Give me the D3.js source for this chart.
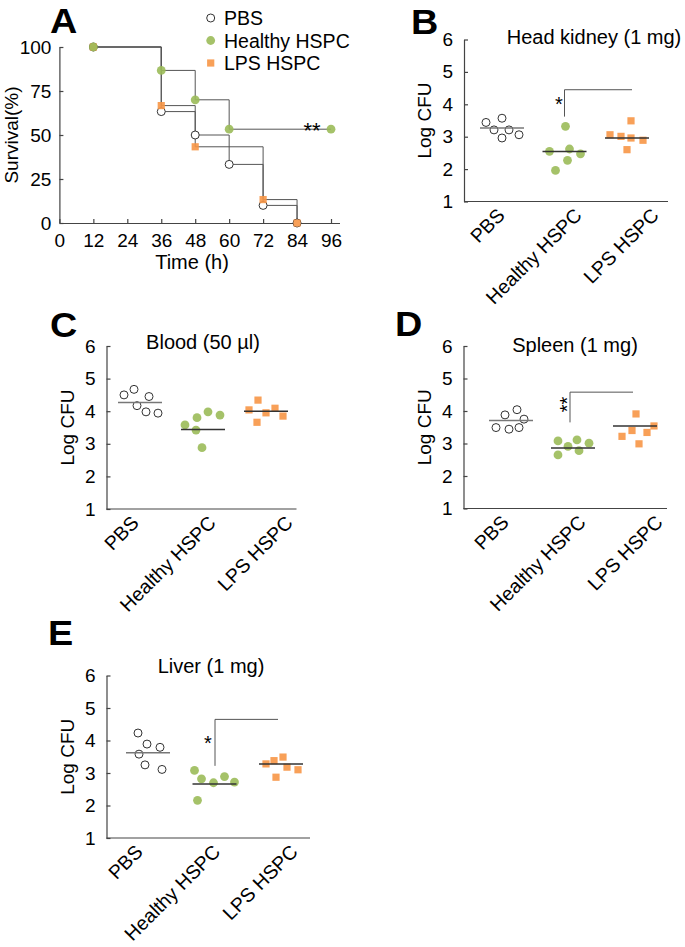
<!DOCTYPE html>
<html><head><meta charset="utf-8">
<script src="https://cdn.jsdelivr.net/npm/d3@7"></script>
<style>
body{margin:0;background:#fff}
svg{display:block}
text{font-family:"Liberation Sans",Arial,sans-serif;fill:#000;font-weight:normal}
</style>
</head><body>
<svg id="chart" width="685" height="947"></svg>
<script>
// ================= DATA =================
const groups = ["PBS", "Healthy HSPC", "LPS HSPC"];
const legendLabels = ["PBS", "Healthy HSPC", "LPS HSPC"];

// Panel A: survival
const survivalTicksX = [0, 12, 24, 36, 48, 60, 72, 84, 96];
const survivalTicksY = [0, 25, 50, 75, 100];
const pbsTime = [12, 36, 48, 60, 72, 84];
const pbsSurvival = [100, 63.3, 50, 33.3, 10, 0];
const healthyTime = [12, 36, 48, 60, 96];
const healthySurvival = [100, 86.7, 70, 53.3, 53.3];
const lpsTime = [12, 36, 48, 72, 84];
const lpsSurvival = [100, 66.7, 43.3, 13.3, 0];

// Panels B-E: Log CFU
const cfuTicks = [1, 2, 3, 4, 5, 6];

const headKidneyPBS = [3.44, 3.57, 3.21, 3.21, 2.96, 3.06];
const headKidneyHealthy = [3.32, 2.55, 2.62, 2.47, 2.27, 1.96];
const headKidneyLPS = [3.49, 3.06, 3.01, 2.96, 2.89, 2.60];
const headKidneyMeans = [3.27, 2.54, 2.96];

const bloodPBS = [4.50, 4.67, 4.45, 4.17, 3.98, 3.94];
const bloodHealthy = [3.58, 3.80, 3.98, 3.88, 3.42, 2.88];
const bloodLPS = [4.34, 4.04, 3.95, 4.09, 3.85, 3.66];
const bloodMeans = [4.27, 3.44, 4.00];

const spleenPBS = [3.49, 3.88, 3.44, 4.04, 3.75, 3.49];
const spleenHealthy = [3.08, 2.65, 2.91, 3.11, 2.78, 3.01];
const spleenLPS = [3.91, 3.40, 3.22, 3.34, 3.54, 2.99];
const spleenMeans = [3.71, 2.86, 3.54];

const liverPBS = [4.23, 3.89, 3.79, 3.58, 3.25, 3.11];
const liverHealthy = [3.08, 2.82, 2.70, 2.89, 2.72, 2.16];
const liverLPS = [3.28, 3.38, 3.49, 3.18, 3.10, 2.87];
const liverMeans = [3.62, 2.66, 3.28];

// significance brackets on Healthy HSPC: [bottom value, top value, star value]
const headKidneyBracket = [3.62, 4.45, 4.12];
const spleenBracket = [3.65, 4.58, 4.2];
const liverBracket = [3.22, 4.65, 4.06];

// ================= LAYOUT (jitter & geometry) =================
const jitterB = [[-16, 0, -8, 7, 0, 17], [1, -15, 5, 16, 3, -9], [4, -17, -6, 4, 16, 0]];
const jitterC = [[-16, -6, 9, -3, 6, 18], [-18, -6, 5, 17, -7, -1], [-8, -17, 0, 9, 17, -9]];
const jitterD = [[-15, -6, -2, 6, 13, 8], [-15, -15, -5, 4, 6, 16], [1, -3, -13, 12, 19, 4]];
const jitterE = [[-10, -1, 12, -9, -3, 14], [-20, -13, -1, 10, 20, -17], [-15, -7, 2, 6, 17, -5]];

const GREEN = "#9bbb59", ORANGE = "#f79646", LINE = "#555", AXIS = "#444";
const FONT = "'Liberation Sans',Arial,sans-serif";

const svg = d3.select("#chart");

function htext(g, x, y, s, o = {}) {
  const size = o.size || 20, sx = o.sx || 1;
  return g.append("text")
    .attr("transform", `translate(${x},${y}) scale(${sx},1)`)
    .attr("text-anchor", o.anchor || "middle")
    .style("font-size", size + "px")
    .style("font-weight", o.weight || "normal")
    .text(s);
}
function vtext(g, x, y, s, size) {
  return g.append("text")
    .attr("transform", `translate(${x},${y}) rotate(-90)`)
    .attr("text-anchor", "middle")
    .style("font-size", size + "px")
    .text(s);
}
function marker(g, type, x, y, r) {
  if (type === 0) {
    g.append("circle").attr("cx", x).attr("cy", y).attr("r", r)
      .attr("fill", "#fff").attr("stroke", "#333").attr("stroke-width", 1);
  } else if (type === 1) {
    g.append("circle").attr("cx", x).attr("cy", y).attr("r", r + 0.4)
      .attr("fill", GREEN).attr("fill-opacity", 0.9);
  } else {
    const s = r * 1.8;
    g.append("rect").attr("x", x - s / 2).attr("y", y - s / 2).attr("width", s).attr("height", s)
      .attr("fill", ORANGE).attr("fill-opacity", 0.9);
  }
}

// ================= PANEL A =================
(function () {
  const g = svg.append("g");
  const x = d3.scaleLinear().domain([0, 99]).range([59.4, 339.5]);
  const y = d3.scaleLinear().domain([0, 100]).range([223, 47]);

  const yAxis = g.append("g").attr("transform", `translate(${x(0)},0)`)
    .call(d3.axisLeft(y).tickValues(survivalTicksY).tickSizeInner(-4).tickSizeOuter(0).tickPadding(8));
  const xAxis = g.append("g").attr("transform", `translate(0,${y(0)})`)
    .call(d3.axisBottom(x).tickValues(survivalTicksX).tickSizeInner(-4).tickSizeOuter(0).tickPadding(11));
  [yAxis, xAxis].forEach(a => {
    a.selectAll("path,line").attr("stroke", AXIS).attr("stroke-width", 1.2);
    a.selectAll("text").style("font-size", "19px").style("font-family", FONT).attr("fill", "#000");
  });

  const series = [
    d3.zip(pbsTime, pbsSurvival),
    d3.zip(healthyTime, healthySurvival),
    d3.zip(lpsTime, lpsSurvival)
  ];
  const line = d3.line().x(d => x(d[0])).y(d => y(d[1])).curve(d3.curveStepAfter);
  series.forEach(s => {
    g.append("path").attr("d", line(s)).attr("fill", "none").attr("stroke", LINE).attr("stroke-width", 1);
  });
  [0, 2, 1].forEach(i => {
    series[i].forEach(d => marker(g, i, x(d[0]), y(d[1]), 4));
  });

  // significance
  g.append("text").attr("x", 312).attr("y", 138).attr("text-anchor", "middle")
    .style("font-size", "22px").text("**");

  // labels
  vtext(g, 18, 135, "Survival(%)", 19);
  htext(g, 192, 269, "Time (h)", { size: 20 });

  // legend
  const ly = [18, 40.5, 63];
  legendLabels.forEach((l, i) => {
    marker(g, i, 210.7, ly[i], 4);
    htext(g, 224, ly[i] + 7, l, { size: 19.5, anchor: "start" });
  });
})();

// ================= PANELS B-E =================
const panels = [
  { title: "Head kidney (1 mg)", values: [headKidneyPBS, headKidneyHealthy, headKidneyLPS], means: headKidneyMeans,
    jitter: jitterB, axisX: 464, y1: 201.5, y6: 39.5, xEnd: 668, centers: [502, 627], labelEnds: [506, 660],
    titleX: 594, titleY: 44, bracket: headKidneyBracket, star: "*", bracketStart: 0, bracketEnd: 5, starDx: -5.5 },
  { title: "Blood (50 µl)", values: [bloodPBS, bloodHealthy, bloodLPS], means: bloodMeans,
    jitter: jitterC, axisX: 106.5, y1: 509, y6: 346, xEnd: 296.5, centers: [140, 266], labelEnds: [140, 294],
    titleX: 203, titleY: 349, bracket: null },
  { title: "Spleen (1 mg)", values: [spleenPBS, spleenHealthy, spleenLPS], means: spleenMeans,
    jitter: jitterD, axisX: 463.5, y1: 508.5, y6: 346, xEnd: 667, centers: [511, 635], labelEnds: [510, 664],
    titleX: 575, titleY: 352, bracket: spleenBracket, star: "**", bracketStart: -3, bracketEnd: -2, starDx: 4 },
  { title: "Liver (1 mg)", values: [liverPBS, liverHealthy, liverLPS], means: liverMeans,
    jitter: jitterE, axisX: 106.5, y1: 838, y6: 675.5, xEnd: 310, centers: [148, 281], labelEnds: [144, 299],
    titleX: 211, titleY: 673, bracket: liverBracket, star: "*", bracketStart: 0.5, bracketEnd: -3, starDx: -7 }
];

panels.forEach(p => {
  const g = svg.append("g");
  const y = d3.scaleLinear().domain([1, 6]).range([p.y1, p.y6]);
  const x = d3.scalePoint().domain(groups).range(p.centers);
  const xl = d3.scalePoint().domain(groups).range(p.labelEnds);

  const yAxis = g.append("g").attr("transform", `translate(${p.axisX},0)`)
    .call(d3.axisLeft(y).tickValues(cfuTicks).tickFormat(d3.format("d")).tickSizeInner(-4).tickSizeOuter(0).tickPadding(11));
  yAxis.selectAll("path,line").attr("stroke", AXIS).attr("stroke-width", 1.2);
  yAxis.selectAll("text").style("font-size", "19px").style("font-family", FONT).attr("fill", "#000");

  g.append("line").attr("x1", p.axisX).attr("x2", p.xEnd).attr("y1", p.y1).attr("y2", p.y1)
    .attr("stroke", AXIS).attr("stroke-width", 1.2);

  // category labels
  groups.forEach(c => {
    g.append("text").attr("transform", `translate(${xl(c)},${p.y1 + 15}) rotate(-45)`)
      .attr("text-anchor", "end").style("font-size", "19.5px").text(c);
  });

  // title & y label
  htext(g, p.titleX, p.titleY, p.title, { size: 20 });
  vtext(g, p.axisX - 33, (p.y1 + p.y6) / 2, "Log CFU", 19);

  // points
  groups.forEach((c, gi) => {
    p.values[gi].forEach((v, j) => marker(g, gi, x(c) + p.jitter[gi][j], y(v), 4));
  });
  // mean lines
  groups.forEach((c, gi) => {
    g.append("line").attr("x1", x(c) - 22).attr("x2", x(c) + 22)
      .attr("y1", y(p.means[gi])).attr("y2", y(p.means[gi]))
      .attr("stroke", gi === 0 ? "#777" : "#333").attr("stroke-width", 1.5);
  });

  // bracket
  if (p.bracket) {
    const bx1 = x("Healthy HSPC") + p.bracketStart, bx2 = x("LPS HSPC") + p.bracketEnd;
    g.append("path")
      .attr("d", `M${bx1},${y(p.bracket[0])}V${y(p.bracket[1])}H${bx2}`)
      .attr("fill", "none").attr("stroke", LINE).attr("stroke-width", 1);
    const sy = y(p.bracket[2]);
    if (p.star === "**") {
      g.append("text").attr("transform", `translate(${bx1 + p.starDx},${sy}) rotate(-90)`)
        .attr("text-anchor", "middle").style("font-size", "20px").text("**");
    } else {
      g.append("text").attr("x", bx1 + p.starDx).attr("y", sy + 11).attr("text-anchor", "middle")
        .style("font-size", "20px").text("*");
    }
  }
});

// ================= PANEL LETTERS =================
const letters = ["A", "B", "C", "D", "E"];
const letterPos = [[50, 33], [411, 34], [50, 337], [395, 336], [48, 645]];
letters.forEach((l, i) => {
  htext(svg, letterPos[i][0], letterPos[i][1], l, { size: 35, sx: 1.08, anchor: "start", weight: "bold" });
});
</script>
</body></html>
